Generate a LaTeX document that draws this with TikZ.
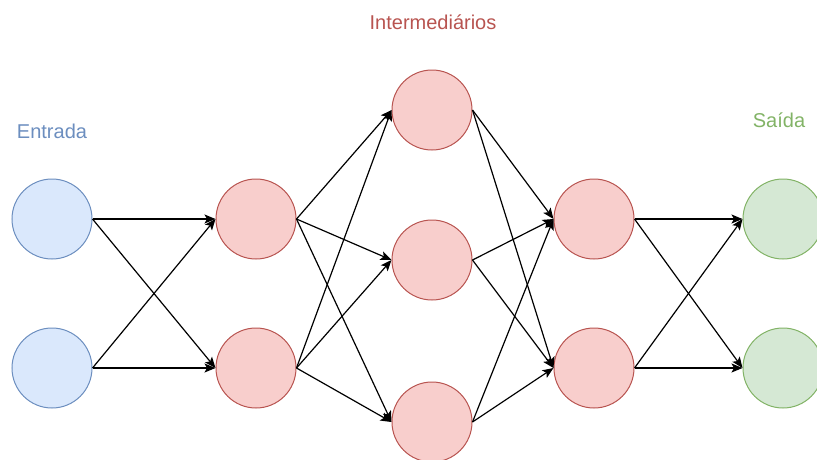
\documentclass[tikz,border=0pt]{standalone}
\usepackage{fontspec}
\setmainfont{Liberation Sans}
\usetikzlibrary{arrows.meta}
\definecolor{bfill}{HTML}{DAE8FC}
\definecolor{bdraw}{HTML}{6C8EBF}
\definecolor{rfill}{HTML}{F8CECC}
\definecolor{rdraw}{HTML}{B85450}
\definecolor{gfill}{HTML}{D5E8D4}
\definecolor{gdraw}{HTML}{82B366}
\tikzset{
  neuron/.style={circle, minimum size=80pt, inner sep=0pt, line width=1pt},
  inneuron/.style={neuron, fill=bfill, draw=bdraw},
  hidneuron/.style={neuron, fill=rfill, draw=rdraw},
  outneuron/.style={neuron, fill=gfill, draw=gdraw},
  conn/.style={line width=1.2pt, -{Stealth[length=11pt,width=9pt,inset=2.5pt]}},
  lbl/.style={font=\fontsize{20}{24}\selectfont, inner sep=0pt}
}
\begin{document}
\begin{tikzpicture}[x=1pt,y=-1pt]
\useasboundingbox (0,0) rectangle (817,459);
\node[inneuron] (i1) at (52,219) {};
\node[inneuron] (i2) at (52,368) {};
\node[hidneuron] (a1) at (256,219) {};
\node[hidneuron] (a2) at (256,368) {};
\node[hidneuron] (b1) at (432,110) {};
\node[hidneuron] (b2) at (432,260) {};
\node[hidneuron] (b3) at (432,422) {};
\node[hidneuron] (c1) at (594,219) {};
\node[hidneuron] (c2) at (594,368) {};
\node[outneuron] (o1) at (783,219) {};
\node[outneuron] (o2) at (783,368) {};
\node[lbl, text=bdraw] (le) at (52,131) {Entrada};
\node[lbl, text=rdraw] (lm) at (433,22) {Intermediários};
\node[lbl, text=gdraw] (ls) at (779,120) {Saída};
\foreach \s in {i1,i2}{\foreach \t in {a1,a2}{\draw[conn] (\s.east) -- (\t.west);}}
\foreach \s in {a1,a2}{\foreach \t in {b1,b2,b3}{\draw[conn] (\s.east) -- (\t.west);}}
\foreach \s in {b1,b2,b3}{\foreach \t in {c1,c2}{\draw[conn] (\s.east) -- (\t.west);}}
\foreach \s in {c1,c2}{\foreach \t in {o1,o2}{\draw[conn] (\s.east) -- (\t.west);}}
\end{tikzpicture}
\end{document}
